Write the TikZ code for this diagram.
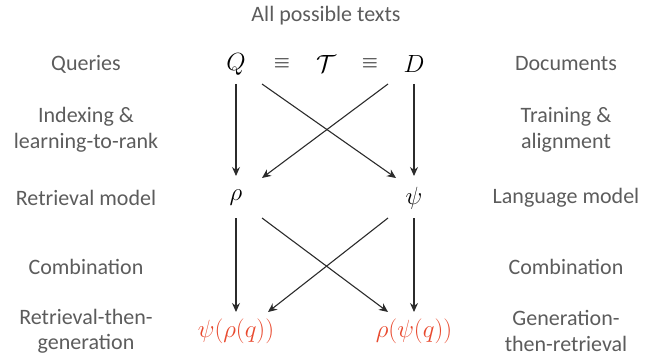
\documentclass[tikz,border=0pt]{standalone}
\usepackage{fontspec}
\setmainfont{Carlito}
\usetikzlibrary{arrows.meta,calc}
\definecolor{lbl}{HTML}{5C5C5C}
\definecolor{arrc}{HTML}{2B2B2B}
\definecolor{res}{HTML}{E8492E}
\begin{document}
\begin{tikzpicture}[x=1pt,y=-1pt,
  lab/.style={font=\fontsize{22}{25.5}\selectfont, text=lbl, align=center, inner sep=0pt},
  sym/.style={font=\fontsize{23}{26}\selectfont, inner sep=0pt},
  eqv/.style={font=\fontsize{20}{22}\selectfont, inner sep=0pt},
  resnode/.style={font=\fontsize{24}{26}\selectfont, text=res, inner sep=0pt},
  arr/.style={draw=arrc, line width=1.1pt, -{Stealth[length=9pt,width=8pt]}}]
\useasboundingbox (0,0) rectangle (652,358);
\node[lab] (all) at (326,16) {All possible texts};
\node[lab] (lq) at (86,64) {Queries};
\node[lab] (rd) at (566,64) {Documents};
\node[lab] (lidx) at (86,130) {Indexing \&\\learning-to-rank};
\node[lab] (rtr) at (566,130) {Training \&\\alignment};
\node[lab] (lrm) at (86,198) {Retrieval model};
\node[lab] (rlm) at (566,198) {Language model};
\node[lab] (lc) at (86,267) {Combination};
\node[lab] (rc) at (566,267) {Combination};
\node[lab] (lrg) at (86,331) {Retrieval-then-\\generation};
\node[lab] (rgr) at (566,331) {Generation-\\then-retrieval};
\node[sym] (Q) at (236,64) {$Q$};
\node[eqv] (e1) at (282,64) {$\equiv$};
\node[sym] (T) at (326,64) {$\mathcal{T}$};
\node[eqv] (e2) at (370,64) {$\equiv$};
\node[sym] (D) at (414,64) {$D$};
\node[sym] (rho) at (236,198) {$\rho$};
\node[sym] (psi) at (414,198) {$\psi$};
\node[resnode] (pr) at (236,331) {$\psi(\rho(q))$};
\node[resnode] (rp) at (414,331) {$\rho(\psi(q))$};
\draw[arr] ($(Q)+(0,20)$) -- ($(rho)+(0,-22)$);
\draw[arr] ($(D)+(0,20)$) -- ($(psi)+(0,-22)$);
\draw[arr] ($(Q)+(26,20)$) -- ($(psi)+(-18,-20)$);
\draw[arr] ($(D)+(-26,20)$) -- ($(rho)+(26,-20)$);
\draw[arr] ($(rho)+(0,20)$) -- ($(pr)+(0,-19)$);
\draw[arr] ($(psi)+(0,20)$) -- ($(rp)+(0,-19)$);
\draw[arr] ($(rho)+(26,20)$) -- ($(rp)+(-26,-19)$);
\draw[arr] ($(psi)+(-26,20)$) -- ($(pr)+(32,-19)$);
\end{tikzpicture}
\end{document}
